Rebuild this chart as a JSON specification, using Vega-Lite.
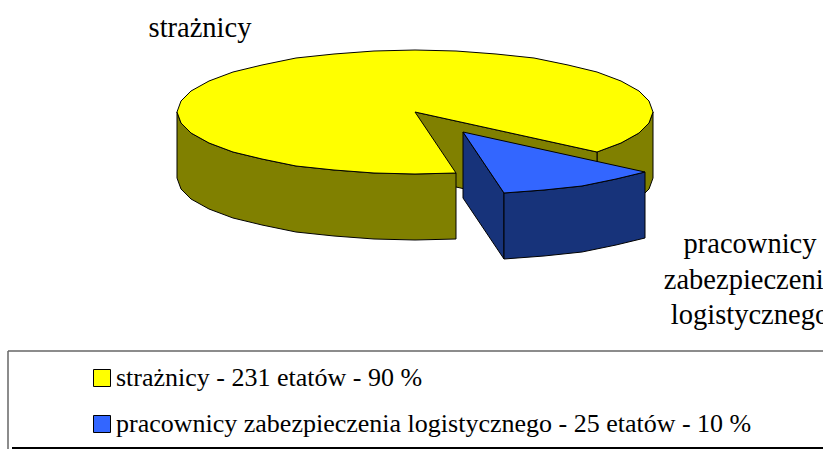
{"$schema":"https://vega.github.io/schema/vega-lite/v6.json","width":823,"height":449,"padding":0,"autosize":{"type":"none"},"background":"white","config":{"view":{"stroke":null},"font":"Liberation Serif"},"layer":[{"data":{"values":[
{"p":"a","i":1,"x":182,"y":-40},{"p":"a","i":2,"x":206,"y":-31},{"p":"a","i":3,"x":224,"y":-21},{"p":"a","i":4,"x":234,"y":-11},{"p":"a","i":5,"x":238,"y":0},{"p":"a","i":6,"x":238,"y":-66},{"p":"a","i":7,"x":234,"y":-77},{"p":"a","i":8,"x":224,"y":-87},{"p":"a","i":9,"x":206,"y":-97},{"p":"a","i":10,"x":182,"y":-106},{"p":"a","i":11,"x":182,"y":-40},
{"p":"b","i":1,"x":0,"y":0},{"p":"b","i":2,"x":182,"y":-40},{"p":"b","i":3,"x":182,"y":-106},{"p":"b","i":4,"x":0,"y":-66},{"p":"b","i":5,"x":0,"y":0},
{"p":"c","i":1,"x":-238,"y":0},{"p":"c","i":2,"x":-234,"y":-11},{"p":"c","i":3,"x":-224,"y":-21},{"p":"c","i":4,"x":-206,"y":-31},{"p":"c","i":5,"x":-182,"y":-40},{"p":"c","i":6,"x":-153,"y":-47},{"p":"c","i":7,"x":-119,"y":-54},{"p":"c","i":8,"x":-81,"y":-58},{"p":"c","i":9,"x":-41,"y":-61},{"p":"c","i":10,"x":0,"y":-62},{"p":"c","i":11,"x":41,"y":-61},{"p":"c","i":12,"x":41,"y":-127},{"p":"c","i":13,"x":0,"y":-128},{"p":"c","i":14,"x":-41,"y":-127},{"p":"c","i":15,"x":-81,"y":-124},{"p":"c","i":16,"x":-119,"y":-120},{"p":"c","i":17,"x":-153,"y":-113},{"p":"c","i":18,"x":-182,"y":-106},{"p":"c","i":19,"x":-206,"y":-97},{"p":"c","i":20,"x":-224,"y":-87},{"p":"c","i":21,"x":-234,"y":-77},{"p":"c","i":22,"x":-238,"y":-66},{"p":"c","i":23,"x":-238,"y":0},
{"p":"strażnicy - 231 etatów - 90 %","i":1,"x":0,"y":0},{"p":"strażnicy - 231 etatów - 90 %","i":2,"x":182,"y":-40},{"p":"strażnicy - 231 etatów - 90 %","i":3,"x":206,"y":-31},{"p":"strażnicy - 231 etatów - 90 %","i":4,"x":224,"y":-21},{"p":"strażnicy - 231 etatów - 90 %","i":5,"x":234,"y":-11},{"p":"strażnicy - 231 etatów - 90 %","i":6,"x":238,"y":0},{"p":"strażnicy - 231 etatów - 90 %","i":7,"x":234,"y":11},{"p":"strażnicy - 231 etatów - 90 %","i":8,"x":224,"y":21},{"p":"strażnicy - 231 etatów - 90 %","i":9,"x":206,"y":31},{"p":"strażnicy - 231 etatów - 90 %","i":10,"x":182,"y":40},{"p":"strażnicy - 231 etatów - 90 %","i":11,"x":153,"y":47},{"p":"strażnicy - 231 etatów - 90 %","i":12,"x":119,"y":54},{"p":"strażnicy - 231 etatów - 90 %","i":13,"x":81,"y":58},{"p":"strażnicy - 231 etatów - 90 %","i":14,"x":41,"y":61},{"p":"strażnicy - 231 etatów - 90 %","i":15,"x":0,"y":62},{"p":"strażnicy - 231 etatów - 90 %","i":16,"x":-41,"y":61},{"p":"strażnicy - 231 etatów - 90 %","i":17,"x":-81,"y":58},{"p":"strażnicy - 231 etatów - 90 %","i":18,"x":-119,"y":54},{"p":"strażnicy - 231 etatów - 90 %","i":19,"x":-153,"y":47},{"p":"strażnicy - 231 etatów - 90 %","i":20,"x":-182,"y":40},{"p":"strażnicy - 231 etatów - 90 %","i":21,"x":-206,"y":31},{"p":"strażnicy - 231 etatów - 90 %","i":22,"x":-224,"y":21},{"p":"strażnicy - 231 etatów - 90 %","i":23,"x":-234,"y":11},{"p":"strażnicy - 231 etatów - 90 %","i":24,"x":-238,"y":0},{"p":"strażnicy - 231 etatów - 90 %","i":25,"x":-234,"y":-11},{"p":"strażnicy - 231 etatów - 90 %","i":26,"x":-224,"y":-21},{"p":"strażnicy - 231 etatów - 90 %","i":27,"x":-206,"y":-31},{"p":"strażnicy - 231 etatów - 90 %","i":28,"x":-182,"y":-40},{"p":"strażnicy - 231 etatów - 90 %","i":29,"x":-153,"y":-47},{"p":"strażnicy - 231 etatów - 90 %","i":30,"x":-119,"y":-54},{"p":"strażnicy - 231 etatów - 90 %","i":31,"x":-81,"y":-58},{"p":"strażnicy - 231 etatów - 90 %","i":32,"x":-41,"y":-61},{"p":"strażnicy - 231 etatów - 90 %","i":33,"x":0,"y":-62},{"p":"strażnicy - 231 etatów - 90 %","i":34,"x":41,"y":-61},{"p":"strażnicy - 231 etatów - 90 %","i":35,"x":0,"y":0},
{"p":"d","i":1,"x":48,"y":-20},{"p":"d","i":2,"x":89,"y":-81},{"p":"d","i":3,"x":89,"y":-147},{"p":"d","i":4,"x":48,"y":-86},{"p":"d","i":5,"x":48,"y":-20},
{"p":"e","i":1,"x":89,"y":-81},{"p":"e","i":2,"x":129,"y":-78},{"p":"e","i":3,"x":167,"y":-74},{"p":"e","i":4,"x":201,"y":-67},{"p":"e","i":5,"x":230,"y":-60},{"p":"e","i":6,"x":230,"y":-126},{"p":"e","i":7,"x":201,"y":-133},{"p":"e","i":8,"x":167,"y":-140},{"p":"e","i":9,"x":129,"y":-144},{"p":"e","i":10,"x":89,"y":-147},{"p":"e","i":11,"x":89,"y":-81},
{"p":"pracownicy zabezpieczenia logistycznego - 25 etatów - 10 %","i":1,"x":48,"y":-20},{"p":"pracownicy zabezpieczenia logistycznego - 25 etatów - 10 %","i":2,"x":230,"y":-60},{"p":"pracownicy zabezpieczenia logistycznego - 25 etatów - 10 %","i":3,"x":201,"y":-67},{"p":"pracownicy zabezpieczenia logistycznego - 25 etatów - 10 %","i":4,"x":167,"y":-74},{"p":"pracownicy zabezpieczenia logistycznego - 25 etatów - 10 %","i":5,"x":129,"y":-78},{"p":"pracownicy zabezpieczenia logistycznego - 25 etatów - 10 %","i":6,"x":89,"y":-81},{"p":"pracownicy zabezpieczenia logistycznego - 25 etatów - 10 %","i":7,"x":48,"y":-20}
]},"mark":{"type":"line","stroke":"black","strokeWidth":1,"filled":true,"strokeOpacity":1},"encoding":{"x":{"field":"x","type":"quantitative","axis":null,"scale":{"domain":[-415,408],"nice":false,"zero":false}},"y":{"field":"y","type":"quantitative","axis":null,"scale":{"domain":[-337,112],"nice":false,"zero":false}},"order":{"field":"i","type":"quantitative"},"detail":{"field":"p"},"fill":{"field":"p","type":"nominal","sort":null,"scale":{"domain":["strażnicy - 231 etatów - 90 %","pracownicy zabezpieczenia logistycznego - 25 etatów - 10 %","a","b","c","d","e"],"range":["#FFFF00","#3366FF","#808000","#808000","#808000","#17337A","#17337A"]},"legend":{"title":null,"orient":"none","legendX":89,"legendY":365,"padding":0,"values":["strażnicy - 231 etatów - 90 %","pracownicy zabezpieczenia logistycznego - 25 etatów - 10 %"],"symbolType":"square","symbolSize":289,"symbolStrokeColor":"black","symbolStrokeWidth":1,"labelFont":"Liberation Serif","labelFontSize":26,"labelColor":"black","labelLimit":800,"labelOffset":1,"rowPadding":20}}}},
{"data":{"values":[{"t":"strażnicy","x":-215,"y":84},{"t":"pracownicy\nzabezpieczenia\nlogistycznego","x":335,"y":-132}]},"mark":{"type":"text","font":"Liberation Serif","fontSize":28.5,"color":"black","lineBreak":"\n","lineHeight":35.5,"align":"center","baseline":"middle"},"encoding":{"x":{"field":"x","type":"quantitative"},"y":{"field":"y","type":"quantitative"},"text":{"field":"t"}}},
{"data":{"values":[{"x":-407,"x2":408,"y":-239,"y2":-239},{"x":-407,"x2":-407,"y":-239,"y2":-337}]},"mark":{"type":"rule","color":"#666666","strokeWidth":1.5},"encoding":{"x":{"field":"x","type":"quantitative"},"x2":{"field":"x2"},"y":{"field":"y","type":"quantitative"},"y2":{"field":"y2"}}},
{"data":{"values":[{"x":-403,"x2":408,"y":-336.5,"y2":-336.5}]},"mark":{"type":"rule","color":"black","strokeWidth":3},"encoding":{"x":{"field":"x","type":"quantitative"},"x2":{"field":"x2"},"y":{"field":"y","type":"quantitative"},"y2":{"field":"y2"}}}
]}
